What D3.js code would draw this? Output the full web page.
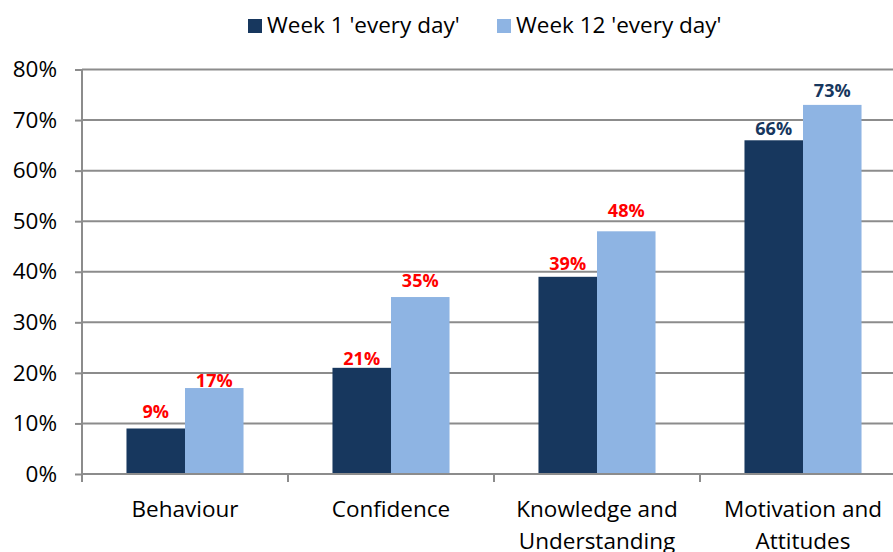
<!DOCTYPE html>
<html>
<head>
<meta charset="utf-8">
<script src="https://cdn.jsdelivr.net/npm/d3@7"></script>
<style>
  html, body { margin: 0; padding: 0; background: #fff; }
  svg { display: block; font-family: "Open Sans", sans-serif; }
</style>
</head>
<body>
<svg id="chart" width="893" height="552"></svg>
<script>
// ---- Data ----
const categories = [["Behaviour"], ["Confidence"], ["Knowledge and", "Understanding"], ["Motivation and", "Attitudes"]];
const seriesNames = ["Week 1 'every day'", "Week 12 'every day'"];
const week1 = [9, 21, 39, 66];
const week12 = [17, 35, 48, 73];
const yTicks = [0, 10, 20, 30, 40, 50, 60, 70, 80];

// ---- Styles ----
const seriesColors = ["#17375E", "#8EB4E3"];
const labelColorByCategory = ["#FF0000", "#FF0000", "#FF0000", "#17375E"];
const labelGap = [[10, 3, 7, 5], [1, 10, 14, 8]]; // px gap between bar top and label baseline
const gridColor = "#8C8C8C";
const fontSize = 22.5;

const svg = d3.select("#chart");
const mLeft = 82, mRight = 906, mTop = 69.5, mBottom = 474;

const catKeys = categories.map(c => c.join(" "));
const x0 = d3.scaleBand().domain(catKeys).range([mLeft, mRight]).paddingInner(0).paddingOuter(0);
const x1 = d3.scaleBand().domain(seriesNames).range([0, x0.bandwidth()]).paddingInner(0).paddingOuter(0.76);
const y = d3.scaleLinear().domain([0, 80]).range([mBottom, mTop]);

// Gridlines
svg.append("g").selectAll("line").data(yTicks.filter(t => t > 0)).join("line")
  .attr("x1", mLeft).attr("x2", 893)
  .attr("y1", d => y(d)).attr("y2", d => y(d))
  .attr("stroke", gridColor).attr("stroke-width", 2);

// Bars
const series = [week1, week12];
const groups = svg.append("g").selectAll("g").data(catKeys).join("g")
  .attr("transform", d => `translate(${x0(d)},0)`);

groups.each(function(cat, i) {
  const g = d3.select(this);
  seriesNames.forEach((s, j) => {
    const v = series[j][i];
    g.append("rect")
      .attr("x", x1(s)).attr("width", x1.bandwidth())
      .attr("y", y(v)).attr("height", y(0) - y(v))
      .attr("fill", seriesColors[j]);
    g.append("text")
      .attr("x", x1(s) + x1.bandwidth() / 2)
      .attr("y", y(v) - labelGap[j][i])
      .attr("text-anchor", "middle")
      .attr("font-size", 18).attr("font-weight", "bold")
      .attr("fill", labelColorByCategory[i])
      .text(v + "%");
  });
});

// Y axis
const yAxis = d3.axisLeft(y).tickValues(yTicks).tickSize(7).tickPadding(18).tickFormat(d => d + "%");
const gy = svg.append("g").attr("transform", `translate(${mLeft},0)`).call(yAxis);
gy.select(".domain").remove();
gy.selectAll(".tick line").attr("stroke", gridColor).attr("stroke-width", 2);
gy.selectAll(".tick text").attr("font-size", fontSize).attr("fill", "#000").attr("font-family", "Open Sans, sans-serif");
svg.append("line").attr("x1", mLeft).attr("x2", mLeft).attr("y1", mTop).attr("y2", mBottom + 8)
  .attr("stroke", gridColor).attr("stroke-width", 2);

// X axis
svg.append("line").attr("x1", mLeft).attr("x2", 893).attr("y1", mBottom).attr("y2", mBottom)
  .attr("stroke", gridColor).attr("stroke-width", 2);
svg.append("g").selectAll("line").data(catKeys.slice(1)).join("line")
  .attr("x1", d => x0(d)).attr("x2", d => x0(d))
  .attr("y1", mBottom).attr("y2", mBottom + 8)
  .attr("stroke", gridColor).attr("stroke-width", 2);

// Category labels
svg.append("g").selectAll("text").data(categories).join("text")
  .attr("x", (d, i) => x0(catKeys[i]) + x0.bandwidth() / 2)
  .attr("y", 517)
  .attr("text-anchor", "middle")
  .attr("font-size", fontSize).attr("fill", "#000")
  .each(function(lines) {
    const t = d3.select(this);
    lines.forEach((l, k) => {
      t.append("tspan").attr("x", t.attr("x")).attr("dy", k === 0 ? 0 : 32).text(l);
    });
  });

// Legend
const legendX = [248, 497];
const leg = svg.append("g").selectAll("g").data(seriesNames).join("g")
  .attr("transform", (d, i) => `translate(${legendX[i]},19)`);
leg.append("rect").attr("width", 14).attr("height", 14).attr("fill", (d, i) => seriesColors[i]);
leg.append("text").attr("x", 19).attr("y", 14).attr("font-size", fontSize).attr("fill", "#000").text(d => d);
</script>
</body>
</html>
